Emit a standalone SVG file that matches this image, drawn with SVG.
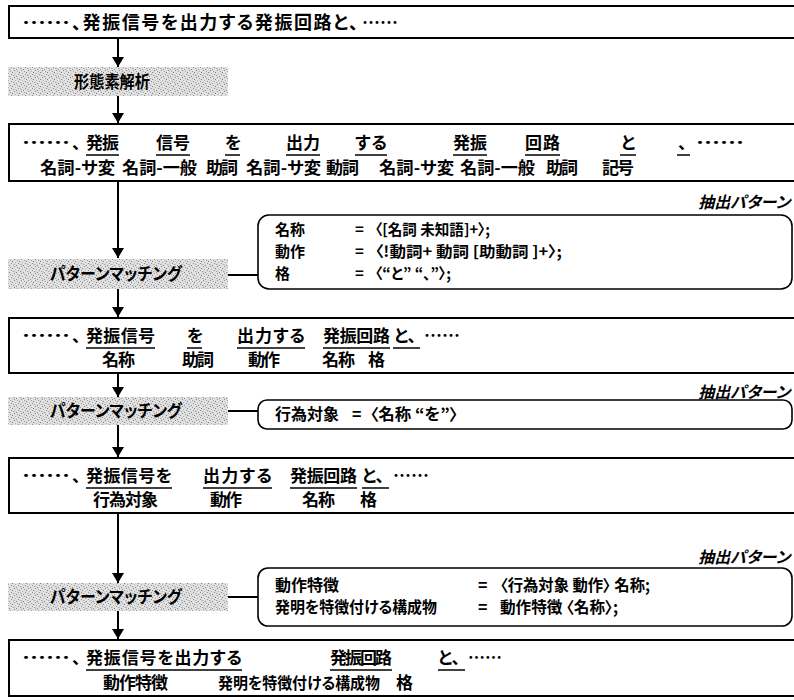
<svg xmlns="http://www.w3.org/2000/svg" width="794" height="700" viewBox="0 0 794 700">
<defs>
<pattern id="noise" width="7" height="7" patternUnits="userSpaceOnUse">
<rect width="7" height="7" fill="#e0e0e0"/>
<rect x="0" y="0" width="1" height="1" fill="#8a8a8a"/>
<rect x="3" y="1" width="1" height="1" fill="#a0a0a0"/>
<rect x="5" y="2" width="1" height="1" fill="#7a7a7a"/>
<rect x="1" y="3" width="1" height="1" fill="#b0b0b0"/>
<rect x="4" y="4" width="1" height="1" fill="#909090"/>
<rect x="6" y="5" width="1" height="1" fill="#a8a8a8"/>
<rect x="2" y="6" width="1" height="1" fill="#888"/>
<rect x="0" y="5" width="1" height="1" fill="#c0c0c0"/>
</pattern>
<marker id="arr" viewBox="0 0 10 12" refX="10" refY="6" markerWidth="10" markerHeight="12" markerUnits="userSpaceOnUse" orient="auto">
<path d="M0,0 L10,6 L0,12 z" fill="#000"/>
</marker>
</defs>
<style>
text{font-family:"Noto Sans CJK JP","Noto Sans CJK SC",sans-serif;font-weight:bold;fill:#000;font-size:17px;font-feature-settings:"palt"}
.big{font-size:18px}
.p{font-size:16px}
.p1{font-size:15px}
.box{fill:#fff;stroke:#000;stroke-width:2}
.pat{fill:#fff;stroke:#000;stroke-width:1.6}
.lbl{fill:url(#noise)}
.ul{stroke:#000;stroke-width:1.5}
.it{font-style:italic;font-size:16px}
.con{stroke:#000;stroke-width:2;fill:none}
</style>
<rect width="794" height="700" fill="#fff"/>

<g id="connectors">
<line class="con" x1="118" y1="38" x2="118" y2="67" marker-end="url(#arr)"/>
<line class="con" x1="118" y1="96" x2="118" y2="123" marker-end="url(#arr)"/>
<line class="con" x1="118" y1="181" x2="118" y2="258" marker-end="url(#arr)"/>
<line class="con" x1="118" y1="289" x2="118" y2="317" marker-end="url(#arr)"/>
<line class="con" x1="118" y1="373" x2="118" y2="397" marker-end="url(#arr)"/>
<line class="con" x1="118" y1="425" x2="118" y2="457" marker-end="url(#arr)"/>
<line class="con" x1="118" y1="513" x2="118" y2="583" marker-end="url(#arr)"/>
<line class="con" x1="118" y1="611" x2="118" y2="639" marker-end="url(#arr)"/>
<line class="con" x1="228" y1="275" x2="258" y2="275" stroke-width="1.5"/>
<line class="con" x1="228" y1="411" x2="258" y2="411" stroke-width="1.5"/>
<line class="con" x1="228" y1="597" x2="258" y2="597" stroke-width="1.5"/>
</g>

<g id="box1">
<rect class="box" x="9" y="6" width="800" height="32"/>
<text class="big" x="22" y="29" textLength="48" lengthAdjust="spacingAndGlyphs">……</text>
<text class="big" x="72" y="29" textLength="286" lengthAdjust="spacing">、発振信号を出力する発振回路と、</text>
<text class="big" x="362" y="29" textLength="36" lengthAdjust="spacingAndGlyphs">……</text>
</g>

<g id="label1">
<rect class="lbl" x="8" y="67" width="220" height="29"/>
<text x="74" y="88" textLength="76" lengthAdjust="spacingAndGlyphs">形態素解析</text>
</g>

<g id="box2">
<rect class="box" x="9" y="124" width="800" height="57"/>
<text x="22" y="149" textLength="48" lengthAdjust="spacingAndGlyphs">……</text>
<text x="72" y="149">、</text>
<text x="86" y="149" textLength="33">発振</text>
<text x="156" y="149" textLength="34">信号</text>
<text x="225" y="149">を</text>
<text x="286" y="149" textLength="34">出力</text>
<text x="355" y="149" textLength="32">する</text>
<text x="453" y="149" textLength="34">発振</text>
<text x="525" y="149" textLength="35">回路</text>
<text x="621" y="149">と</text>
<text x="678" y="149">、</text>
<text x="696" y="149" textLength="48" lengthAdjust="spacingAndGlyphs">……</text>
<line class="ul" x1="86" y1="155" x2="119" y2="155"/>
<line class="ul" x1="156" y1="155" x2="190" y2="155"/>
<line class="ul" x1="225" y1="155" x2="240" y2="155"/>
<line class="ul" x1="286" y1="155" x2="320" y2="155"/>
<line class="ul" x1="355" y1="155" x2="387" y2="155"/>
<line class="ul" x1="453" y1="155" x2="487" y2="155"/>
<line class="ul" x1="525" y1="155" x2="560" y2="155"/>
<line class="ul" x1="620" y1="155" x2="636" y2="155"/>
<line class="ul" x1="677" y1="155" x2="690" y2="155"/>
<text x="40" y="174" textLength="75" lengthAdjust="spacingAndGlyphs">名詞-サ変</text>
<text x="122" y="174" textLength="75" lengthAdjust="spacingAndGlyphs">名詞-一般</text>
<text x="206" y="174" textLength="32">助詞</text>
<text x="246" y="174" textLength="75" lengthAdjust="spacingAndGlyphs">名詞-サ変</text>
<text x="326" y="174" textLength="33">動詞</text>
<text x="379" y="174" textLength="75" lengthAdjust="spacingAndGlyphs">名詞-サ変</text>
<text x="460" y="174" textLength="75" lengthAdjust="spacingAndGlyphs">名詞-一般</text>
<text x="546" y="174" textLength="32">助詞</text>
<text x="602" y="174" textLength="32">記号</text>
</g>

<text class="it" x="790" y="208" text-anchor="end">抽出パターン</text>

<g id="label2">
<rect class="lbl" x="8" y="259" width="220" height="30"/>
<text x="50" y="280" textLength="132" lengthAdjust="spacingAndGlyphs">パターンマッチング</text>
</g>

<g id="pattern1">
<rect class="pat" x="258" y="215" width="534" height="74" rx="11"/>
<text class="p1" x="275" y="235">名称</text>
<text class="p1" x="355" y="235">=</text>
<text class="p1" x="375" y="235" textLength="115" lengthAdjust="spacingAndGlyphs">〈[名詞 未知語]+〉;</text>
<text class="p1" x="275" y="257">動作</text>
<text class="p1" x="355" y="257">=</text>
<text class="p1" x="375" y="257" textLength="187" lengthAdjust="spacingAndGlyphs">〈!動詞+ 動詞 [助動詞 ]+〉;</text>
<text class="p1" x="275" y="279">格</text>
<text class="p1" x="355" y="279">=</text>
<text class="p1" x="375" y="279" textLength="76" lengthAdjust="spacingAndGlyphs">〈“と” “、”〉;</text>
</g>

<g id="box3">
<rect class="box" x="9" y="318" width="800" height="55"/>
<text x="22" y="342" textLength="48" lengthAdjust="spacingAndGlyphs">……</text>
<text x="72" y="342">、</text>
<text x="86" y="342" textLength="69">発振信号</text>
<text x="187" y="342">を</text>
<text x="237" y="342" textLength="68">出力する</text>
<text x="323" y="342" textLength="67">発振回路</text>
<text x="394" y="342">と、</text>
<text x="424" y="342" textLength="36" lengthAdjust="spacingAndGlyphs">……</text>
<line class="ul" x1="86" y1="348" x2="155" y2="348"/>
<line class="ul" x1="187" y1="348" x2="202" y2="348"/>
<line class="ul" x1="237" y1="348" x2="305" y2="348"/>
<line class="ul" x1="323" y1="348" x2="390" y2="348"/>
<line class="ul" x1="393" y1="348" x2="420" y2="348"/>
<text x="102" y="366" textLength="33">名称</text>
<text x="182" y="366" textLength="32">助詞</text>
<text x="248" y="366" textLength="32">動作</text>
<text x="322" y="366" textLength="33">名称</text>
<text x="368" y="366">格</text>
</g>

<text class="it" x="790" y="398" text-anchor="end">抽出パターン</text>

<g id="label3">
<rect class="lbl" x="8" y="397" width="220" height="28"/>
<text x="50" y="417" textLength="132" lengthAdjust="spacingAndGlyphs">パターンマッチング</text>
</g>

<g id="pattern2">
<rect class="pat" x="258" y="400" width="534" height="29" rx="9"/>
<text class="p" x="275" y="420">行為対象</text>
<text class="p" x="352" y="420">=</text>
<text class="p" x="370" y="420" textLength="88" lengthAdjust="spacingAndGlyphs">〈名称 “を”〉</text>
</g>

<g id="box4">
<rect class="box" x="9" y="458" width="800" height="55"/>
<text x="22" y="482" textLength="48" lengthAdjust="spacingAndGlyphs">……</text>
<text x="72" y="482">、</text>
<text x="86" y="482" textLength="86">発振信号を</text>
<text x="203" y="482" textLength="69">出力する</text>
<text x="290" y="482" textLength="67">発振回路</text>
<text x="362" y="482">と、</text>
<text x="393" y="482" textLength="36" lengthAdjust="spacingAndGlyphs">……</text>
<line class="ul" x1="86" y1="488" x2="172" y2="488"/>
<line class="ul" x1="203" y1="488" x2="272" y2="488"/>
<line class="ul" x1="290" y1="488" x2="357" y2="488"/>
<line class="ul" x1="362" y1="488" x2="389" y2="488"/>
<text x="93" y="506" textLength="65">行為対象</text>
<text x="210" y="506" textLength="32">動作</text>
<text x="302" y="506" textLength="33">名称</text>
<text x="360" y="506">格</text>
</g>

<text class="it" x="790" y="563" text-anchor="end">抽出パターン</text>

<g id="label4">
<rect class="lbl" x="8" y="583" width="220" height="28"/>
<text x="50" y="603" textLength="132" lengthAdjust="spacingAndGlyphs">パターンマッチング</text>
</g>

<g id="pattern3">
<rect class="pat" x="258" y="568" width="534" height="58" rx="10"/>
<text class="p" x="275" y="591">動作特徴</text>
<text class="p" x="478" y="591">=</text>
<text class="p" x="500" y="591" textLength="150" lengthAdjust="spacingAndGlyphs">〈行為対象 動作〉 名称;</text>
<text class="p" x="275" y="613" textLength="162" lengthAdjust="spacingAndGlyphs">発明を特徴付ける構成物</text>
<text class="p" x="478" y="613">=</text>
<text class="p" x="500" y="613" textLength="118" lengthAdjust="spacingAndGlyphs">動作特徴 〈名称〉;</text>
</g>

<g id="box5">
<rect class="box" x="9" y="640" width="800" height="56"/>
<text x="22" y="664" textLength="48" lengthAdjust="spacingAndGlyphs">……</text>
<text x="72" y="664">、</text>
<text x="86" y="664" textLength="156">発振信号を出力する</text>
<text x="330" y="664" textLength="62">発振回路</text>
<text x="438" y="664">と、</text>
<text x="468" y="664" textLength="34" lengthAdjust="spacingAndGlyphs">……</text>
<line class="ul" x1="86" y1="670" x2="242" y2="670"/>
<line class="ul" x1="330" y1="670" x2="392" y2="670"/>
<line class="ul" x1="438" y1="670" x2="465" y2="670"/>
<text x="103" y="689" textLength="65">動作特徴</text>
<text class="p" x="218" y="689" textLength="162" lengthAdjust="spacingAndGlyphs">発明を特徴付ける構成物</text>
<text x="396" y="689">格</text>
</g>
</svg>
